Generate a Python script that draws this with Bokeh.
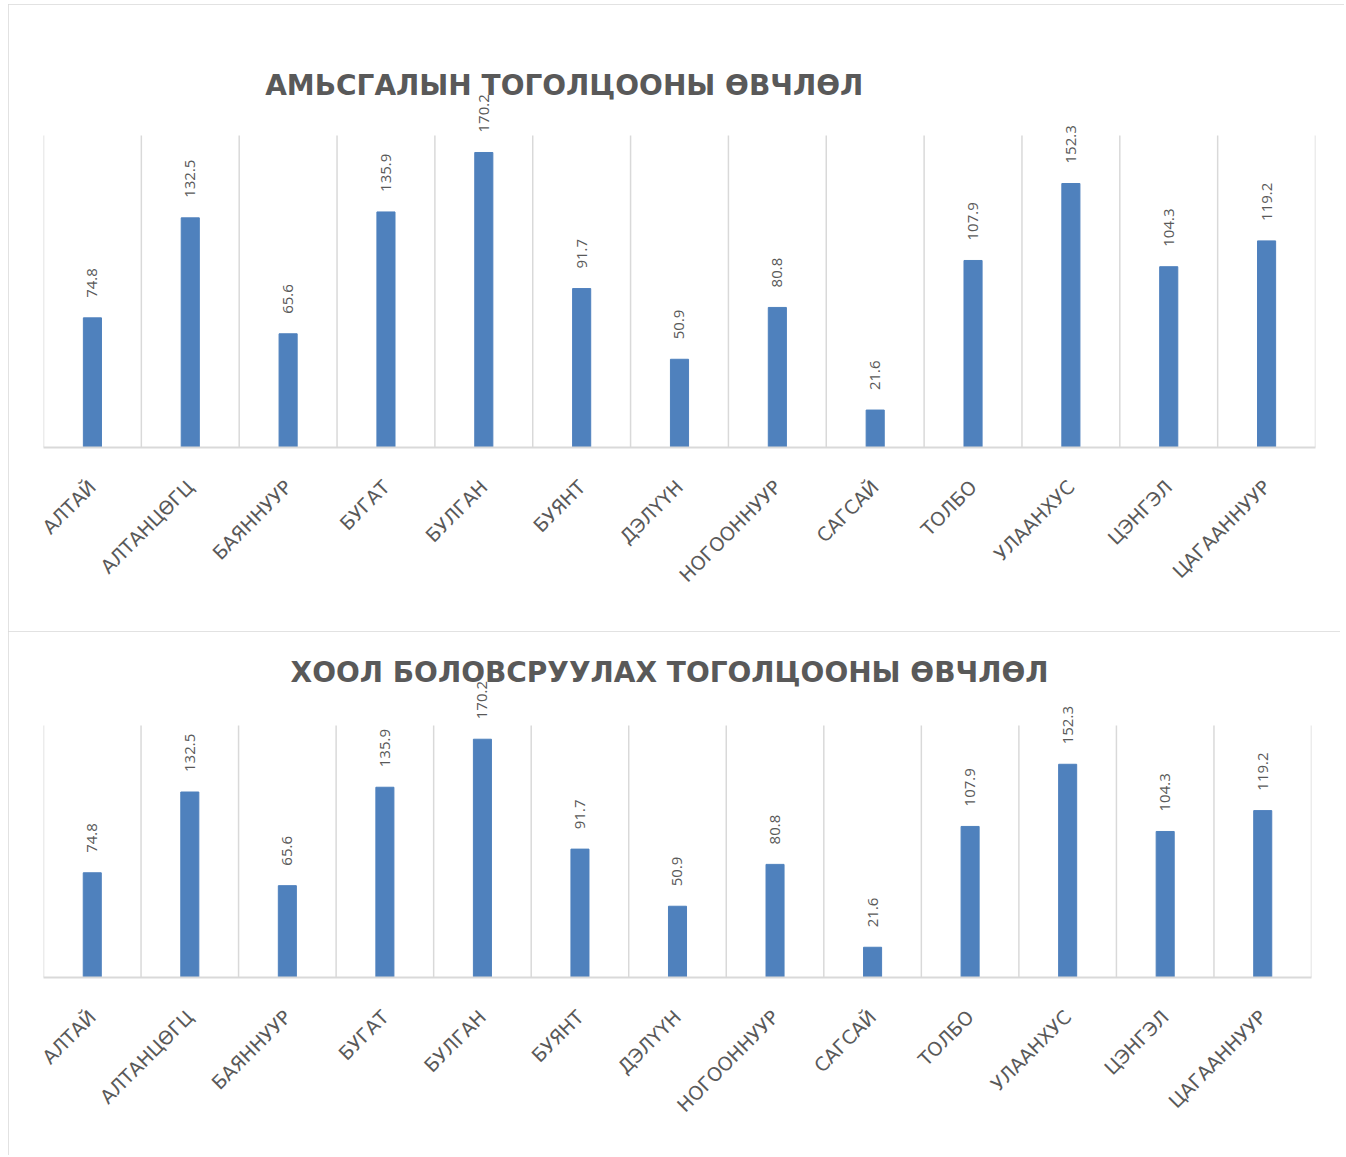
import math
from bokeh.plotting import figure
from bokeh.models import ColumnDataSource, FixedTicker, LabelSet, Label, Range1d, Spacer
from bokeh.core.properties import value
from bokeh.layouts import column, row
from bokeh.embed import file_html
from bokeh.resources import INLINE

categories = ["АЛТАЙ", "АЛТАНЦӨГЦ", "БАЯННУУР", "БУГАТ", "БУЛГАН", "БУЯНТ",
              "ДЭЛҮҮН", "НОГООННУУР", "САГСАЙ", "ТОЛБО", "УЛААНХУС", "ЦЭНГЭЛ",
              "ЦАГААННУУР"]
respiratory = [74.8, 132.5, 65.6, 135.9, 170.2, 91.7, 50.9, 80.8, 21.6, 107.9, 152.3, 104.3, 119.2]
digestive = [74.8, 132.5, 65.6, 135.9, 170.2, 91.7, 50.9, 80.8, 21.6, 107.9, 152.3, 104.3, 119.2]
title_top = "АМЬСГАЛЫН ТОГОЛЦООНЫ ӨВЧЛӨЛ"
title_bottom = "ХООЛ БОЛОВСРУУЛАХ ТОГОЛЦООНЫ ӨВЧЛӨЛ"
Y_MAX = 180  # value axis maximum (top of the gridlines)

BAR = "#4f81bd"
GRID = "#d9d9d9"
TXT = "#595959"


def make_chart(title, values, width, height, left, right, top, bottom,
               plot_h, t_align, t_dx, t_dy):
    """plot_h: pixel height of the 0..Y_MAX value area; frame extends above it
    so that the rotated value labels are not clipped."""
    n = len(categories)
    xs = list(range(n))
    frame_w = width - left - right
    frame_h = height - top - bottom
    unit_px = plot_h / Y_MAX
    y_end = frame_h / unit_px
    cat_px = frame_w / n

    src = ColumnDataSource(dict(x=xs, v=values, lbl=[f"{v:.1f}" for v in values]))
    p = figure(width=width, height=height, output_backend="svg", toolbar_location=None,
               x_range=Range1d(-0.5, n - 0.5), y_range=Range1d(0, y_end),
               min_border_left=left, min_border_right=right,
               min_border_top=top, min_border_bottom=bottom)
    p.outline_line_color = None
    p.background_fill_color = "white"
    p.border_fill_color = "white"
    p.styles = {"outline": f"2px solid {GRID}", "outline-offset": "-2px"}
    p.xgrid.grid_line_color = None
    p.ygrid.grid_line_color = None
    p.yaxis.visible = False

    # vertical category separators (0..Y_MAX)
    seps = [i - 0.5 for i in range(n + 1)]
    p.segment(x0=seps, y0=[0] * len(seps), x1=seps, y1=[Y_MAX] * len(seps),
              line_color=GRID, line_width=1.5)

    p.vbar(x="x", top="v", width=0.185, source=src, fill_color=BAR, line_color=BAR)

    p.add_layout(LabelSet(x="x", y="v", text="lbl", source=src, angle=math.pi / 2,
                          text_align="left", text_baseline="middle", y_offset=20,
                          text_font=value("Open Sans"), text_font_size="15px",
                          text_color=TXT))

    p.add_layout(Label(x=-0.5 + t_dx / cat_px, y=t_dy / unit_px, text=title,
                       text_align=t_align, text_baseline="middle",
                       text_font="DejaVu Sans", text_font_size="28px",
                       text_font_style="bold", text_color=TXT))

    ax = p.xaxis[0]
    ax.ticker = FixedTicker(ticks=xs)
    ax.major_label_overrides = {i: c for i, c in enumerate(categories)}
    ax.major_label_orientation = math.pi / 4
    ax.major_tick_line_color = None
    ax.minor_tick_line_color = None
    ax.axis_line_color = GRID
    ax.axis_line_width = 2
    ax.major_label_standoff = 30
    ax.major_label_text_font = "DejaVu Sans"
    ax.major_label_text_font_size = "19px"
    ax.major_label_text_color = TXT
    return p


p1 = make_chart(title_top, respiratory, 1336, 627, 35, 27, 10, 184, 312, "left", 222, 362)
p2 = make_chart(title_bottom, digestive, 1332, 524, 35, 29, 10, 178, 252, "center", 626, 305)

layout = row(Spacer(width=8), column(Spacer(height=4), p1, p2, spacing=0), spacing=0)
open("out.html", "w").write(file_html(layout, INLINE))
